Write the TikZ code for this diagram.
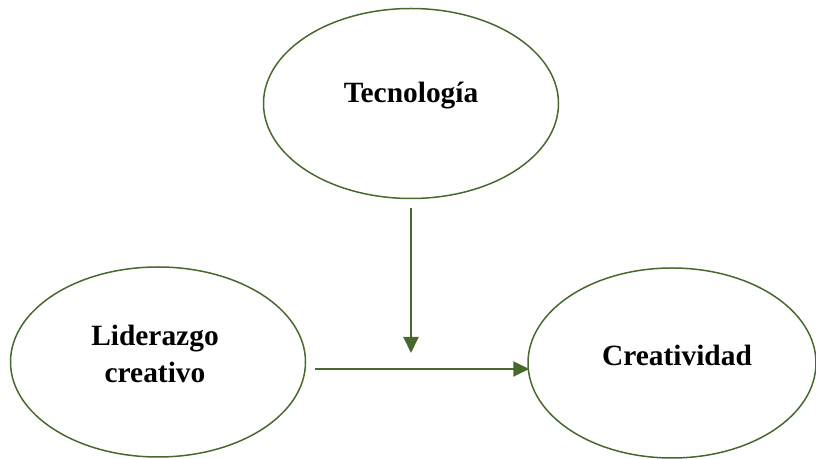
\documentclass[tikz,border=0pt]{standalone}
\usepackage{fontspec}
\setmainfont{Liberation Serif}
\usetikzlibrary{shapes.geometric,arrows.meta}
\definecolor{ovalgreen}{HTML}{48692D}

\tikzset{
    oval/.style={draw=ovalgreen, line width=0.75pt, ellipse, inner sep=0pt,
        minimum width=147.5pt, minimum height=95pt},
    ovaltext/.style={font=\bfseries\fontsize{14.7}{18.5}\selectfont, align=center},
    link/.style={draw=ovalgreen, line width=1pt, -{Triangle[length=8pt,width=7.5pt]}}
}

\begin{document}
\begin{tikzpicture}[x=0.5pt, y=-0.5pt]
    \useasboundingbox (0,0) rectangle (816,459);

    % Draw the ovals
    \node[oval] (tec) at (411,103.5) {};
    \node[oval] (lid) at (158,362) {};
    \node[oval, minimum width=144pt] (cre) at (672,363) {};

    % Place the labels
    \node[ovaltext] (tectext) at ([yshift=4pt]tec.center) {Tecnología};
    \node[ovaltext] (lidtext) at ([xshift=-1.5pt,yshift=4pt]lid.center) {Liderazgo\\creativo};
    \node[ovaltext] (cretext) at ([xshift=2.5pt,yshift=4pt]cre.center) {Creatividad};

    % Draw the arrows
    \coordinate (meet) at (411,353);
    \coordinate (row) at (0,369);
    \draw[link, shorten <=4.5pt] (tec.south) -- (meet);
    \draw[link, shorten <=4.5pt, shorten >=-1pt] (lid.east |- row) -- (cre.west |- row);

\end{tikzpicture}
\end{document}
